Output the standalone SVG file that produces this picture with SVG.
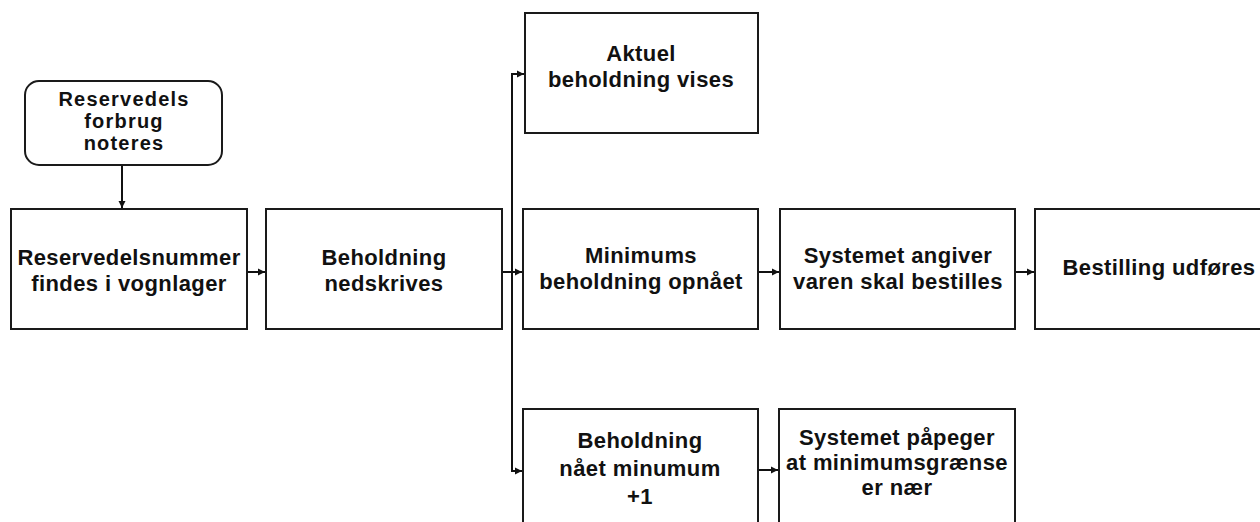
<svg xmlns="http://www.w3.org/2000/svg" width="1260" height="522" viewBox="0 0 1260 522">
  <style>
    .box { fill: #ffffff; stroke: #1a1a1a; stroke-width: 2; }
    .lbl { font-family: "Liberation Sans", Arial, sans-serif; font-weight: bold; font-size: 22px; fill: #111111; text-anchor: middle; letter-spacing: 0.4px; }
    .small { font-size: 20px; letter-spacing: 1.2px; }
    .wire { fill: none; stroke: #111111; stroke-width: 2; }
  </style>
  <defs>
    <marker id="arrow" markerWidth="8" markerHeight="8" refX="7" refY="4" orient="auto" markerUnits="userSpaceOnUse">
      <path d="M0,0.5 L7,4 L0,7.5 Z" fill="#111111"/>
    </marker>
  </defs>
  <rect width="1260" height="522" fill="#ffffff"/>

  <!-- connectors -->
  <g id="connectors">
    <line class="wire" x1="122" y1="165" x2="122" y2="208" marker-end="url(#arrow)"/>
    <line class="wire" x1="247" y1="272" x2="265" y2="272" marker-end="url(#arrow)"/>
    <line class="wire" x1="502" y1="272" x2="522" y2="272" marker-end="url(#arrow)"/>
    <polyline class="wire" points="524,74 512,74 512,471 522,471"/>
    <line class="wire" x1="512" y1="74" x2="524" y2="74" marker-end="url(#arrow)"/>
    <line class="wire" x1="512" y1="471" x2="522" y2="471" marker-end="url(#arrow)"/>
    <line class="wire" x1="758" y1="272" x2="779" y2="272" marker-end="url(#arrow)"/>
    <line class="wire" x1="1015" y1="272" x2="1034" y2="272" marker-end="url(#arrow)"/>
    <line class="wire" x1="758" y1="470" x2="778" y2="470" marker-end="url(#arrow)"/>
  </g>

  <g id="forbrug-noteres">
    <rect class="box" x="25" y="81" width="197" height="84" rx="14" ry="14"/>
    <text class="lbl small" x="124" y="106">Reservedels</text>
    <text class="lbl small" x="124" y="128">forbrug</text>
    <text class="lbl small" x="124" y="150">noteres</text>
  </g>

  <g id="nummer-findes">
    <rect class="box" x="11" y="209" width="236" height="120"/>
    <text class="lbl" x="129" y="265">Reservedelsnummer</text>
    <text class="lbl" x="129" y="291">findes i vognlager</text>
  </g>

  <g id="beholdning-nedskrives">
    <rect class="box" x="266" y="209" width="236" height="120"/>
    <text class="lbl" x="384" y="265">Beholdning</text>
    <text class="lbl" x="384" y="291">nedskrives</text>
  </g>

  <g id="aktuel-beholdning">
    <rect class="box" x="525" y="13" width="233" height="120"/>
    <text class="lbl" x="641" y="61">Aktuel</text>
    <text class="lbl" x="641" y="87">beholdning vises</text>
  </g>

  <g id="minimums-beholdning">
    <rect class="box" x="523" y="209" width="235" height="120"/>
    <text class="lbl" x="641" y="263">Minimums</text>
    <text class="lbl" x="641" y="289">beholdning opnået</text>
  </g>

  <g id="systemet-angiver">
    <rect class="box" x="780" y="209" width="235" height="120"/>
    <text class="lbl" x="898" y="263">Systemet angiver</text>
    <text class="lbl" x="898" y="289">varen skal bestilles</text>
  </g>

  <g id="bestilling-udfoeres">
    <rect class="box" x="1035" y="209" width="250" height="120"/>
    <text class="lbl" x="1159" y="275">Bestilling udføres</text>
  </g>

  <g id="naaet-minimum">
    <rect class="box" x="523" y="409" width="235" height="130"/>
    <text class="lbl" x="640" y="448">Beholdning</text>
    <text class="lbl" x="640" y="476">nået minumum</text>
    <text class="lbl" x="640" y="504">+1</text>
  </g>

  <g id="systemet-paapeger">
    <rect class="box" x="779" y="409" width="236" height="130"/>
    <text class="lbl" x="897" y="445">Systemet påpeger</text>
    <text class="lbl" x="897" y="470">at minimumsgrænse</text>
    <text class="lbl" x="897" y="495">er nær</text>
  </g>
</svg>
